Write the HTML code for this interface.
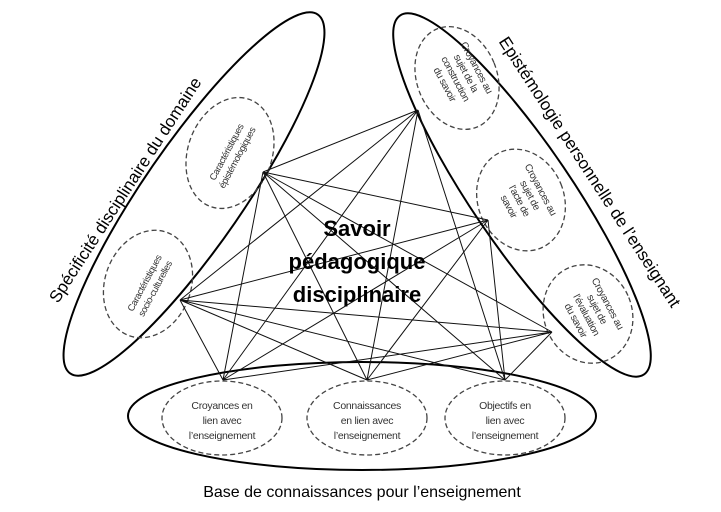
<!DOCTYPE html>
<html><head><meta charset="utf-8"><style>
html,body{margin:0;padding:0;background:#fff;}
svg{display:block;font-family:"Liberation Sans",sans-serif;}
</style></head><body>
<svg width="721" height="512" viewBox="0 0 721 512" xmlns="http://www.w3.org/2000/svg">
<g stroke="#000" fill="none">
 <ellipse cx="194" cy="194" rx="218" ry="50" transform="rotate(-55.4 194 194)" stroke-width="2"/>
 <ellipse cx="522" cy="195" rx="217" ry="50" transform="rotate(55.8 522 195)" stroke-width="2"/>
 <ellipse cx="362" cy="416" rx="234" ry="54" stroke-width="2"/>
 <g stroke="#444" stroke-dasharray="5,3" stroke-width="1.3">
  <ellipse cx="230" cy="153" rx="42" ry="57" transform="rotate(20 230 153)"/>
  <ellipse cx="148" cy="284" rx="43" ry="55" transform="rotate(20 148 284)"/>
  <ellipse cx="457" cy="78" rx="40" ry="53" transform="rotate(-22 457 78)"/>
  <ellipse cx="521" cy="200" rx="43" ry="52" transform="rotate(-22 521 200)"/>
  <ellipse cx="588" cy="314" rx="44" ry="50" transform="rotate(-22 588 314)"/>
  <ellipse cx="222" cy="418" rx="60" ry="37"/>
  <ellipse cx="367" cy="418" rx="60" ry="37"/>
  <ellipse cx="505" cy="418" rx="60" ry="37"/>
 </g>
 <g stroke="#111" stroke-width="1">
  <path d="M263 172L418 110M263 172L488 220M263 172L552 332M263 172L223 380M263 172L367 380M263 172L505 380
  M180 300L418 110M180 300L488 220M180 300L552 332M180 300L223 380M180 300L367 380M180 300L505 380
  M418 110L223 380M418 110L367 380M418 110L505 380
  M488 220L223 380M488 220L367 380M488 220L505 380
  M552 332L223 380M552 332L367 380M552 332L505 380"/>
 </g>
</g>
<g fill="#000" text-anchor="middle">
 <text font-weight="bold" font-size="22"><tspan x="357" y="236">Savoir</tspan><tspan x="357" y="269">pédagogique</tspan><tspan x="357" y="302">disciplinaire</tspan></text>
 <text x="130" y="193" font-size="17" transform="rotate(-57 130 193)">Spécificité disciplinaire du domaine</text>
 <text x="585" y="175" font-size="17" transform="rotate(57 585 175)">Epistémologie personnelle de l’enseignant</text>
 <text x="362" y="497" font-size="16">Base de connaissances pour l’enseignement</text>
 <g font-size="9.5" letter-spacing="-0.4" fill="#333">
  <text transform="rotate(-62 232 155)"><tspan x="232" y="152">Caractéristiques</tspan><tspan x="232" y="164">épistémologiques</tspan></text>
  <text transform="rotate(-62 150 286)"><tspan x="150" y="283">Caractéristiques</tspan><tspan x="150" y="295">socio-culturelles</tspan></text>
 </g>
 <g font-size="10" letter-spacing="-0.4" fill="#333">
  <text transform="rotate(62 457 78)"><tspan x="457" y="59">Croyances au</tspan><tspan x="457" y="71">sujet de la</tspan><tspan x="457" y="83">construction</tspan><tspan x="457" y="95">du savoir</tspan></text>
  <text transform="rotate(62 521 200)"><tspan x="521" y="181">Croyances au</tspan><tspan x="521" y="193">sujet de</tspan><tspan x="521" y="205">l’acte de</tspan><tspan x="521" y="217">savoir</tspan></text>
  <text transform="rotate(62 588 314)"><tspan x="588" y="295">Croyances au</tspan><tspan x="588" y="307">sujet de</tspan><tspan x="588" y="319">l’évaluation</tspan><tspan x="588" y="331">du savoir</tspan></text>
 </g>
 <g font-size="10.5" letter-spacing="-0.3" fill="#333">
  <text><tspan x="222" y="409">Croyances en</tspan><tspan x="222" y="424">lien avec</tspan><tspan x="222" y="439">l’enseignement</tspan></text>
  <text><tspan x="367" y="409">Connaissances</tspan><tspan x="367" y="424">en lien avec</tspan><tspan x="367" y="439">l’enseignement</tspan></text>
  <text><tspan x="505" y="409">Objectifs en</tspan><tspan x="505" y="424">lien avec</tspan><tspan x="505" y="439">l’enseignement</tspan></text>
 </g>
</g>
</svg>
</body></html>
